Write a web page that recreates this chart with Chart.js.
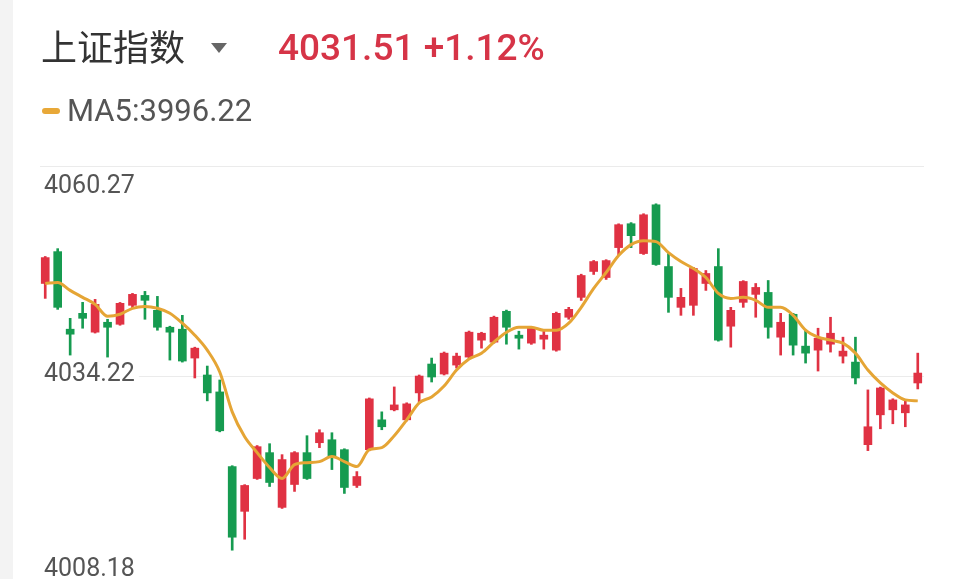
<!DOCTYPE html>
<html>
<head>
<meta charset="utf-8">
<script src="https://cdn.jsdelivr.net/npm/chart.js@4.4.1/dist/chart.umd.min.js"></script>
<style>
  html, body { margin: 0; padding: 0; background: #fff; overflow: hidden; }
  body { width: 960px; height: 579px; position: relative; }
  #strip { position: absolute; left: 0; top: 0; width: 13px; height: 579px; background: #f3f3f3; }
  #title { position: absolute; left: 41px; top: 27px; font: 36px/36px "Noto Sans CJK SC", sans-serif; color: #333; }
  #arrow { position: absolute; left: 211px; top: 43px; width: 0; height: 0;
           border-left: 8.5px solid transparent; border-right: 8.5px solid transparent; border-top: 10px solid #666; }
  #price { position: absolute; left: 278px; top: 29px; font: 500 37px/37px Roboto, sans-serif; color: #d63447;
           white-space: nowrap; }
  #maKey { position: absolute; left: 42px; top: 108px; width: 18px; height: 6px; border-radius: 3px; background: #e8a838; }
  #maText { position: absolute; left: 67px; top: 95px; font: 31px/31px Roboto, sans-serif; color: #555;
            white-space: nowrap; }
  #chart { position: absolute; left: 0; top: 0; }
</style>
</head>
<body>
<div id="strip"></div>
<canvas id="chart" width="960" height="600"></canvas>
<div id="title">上证指数</div>
<div id="arrow"></div>
<div id="price">4031.51 +1.12%</div>
<div id="maKey"></div>
<div id="maText">MA5:3996.22</div>
<script>
// candle data (71 bars)
const openPrices = [
  4045.70, 4049.65, 4040.03, 4042.00, 4039.66, 4040.89, 4040.64, 4042.99, 4044.22, 4042.37,
  4040.27, 4040.03, 4036.45, 4034.35, 4032.25, 4022.99, 4017.44, 4021.51, 4024.72, 4017.93,
  4020.77, 4024.72, 4025.95, 4026.32, 4025.09, 4020.65, 4025.09, 4028.79, 4030.03, 4028.79,
  4032.13, 4035.71, 4034.47, 4035.58, 4036.57, 4038.67, 4038.42, 4042.25, 4039.29, 4038.30,
  4038.79, 4037.43, 4041.51, 4043.98, 4047.19, 4046.44, 4050.15, 4053.11, 4049.41, 4055.46,
  4047.80, 4042.74, 4042.99, 4045.70, 4047.80, 4040.40, 4043.36, 4044.35, 4044.59, 4039.04,
  4041.88, 4037.93, 4037.43, 4038.17, 4036.69, 4035.95, 4025.71, 4029.41, 4030.03, 4029.66,
  4033.36
];
const highPrices = [
  4049.05, 4050.02, 4041.38, 4043.36, 4043.73, 4041.26, 4043.35, 4044.47, 4044.72, 4044.10,
  4040.40, 4041.75, 4037.80, 4035.46, 4033.73, 4023.10, 4020.75, 4025.60, 4025.83, 4024.47,
  4024.85, 4026.82, 4027.56, 4027.19, 4025.20, 4022.37, 4031.50, 4029.78, 4032.87, 4030.90,
  4034.35, 4036.45, 4037.20, 4037.06, 4039.80, 4039.65, 4041.65, 4042.40, 4039.78, 4040.30,
  4039.90, 4042.15, 4042.74, 4046.85, 4048.55, 4048.65, 4053.10, 4053.25, 4054.35, 4055.58,
  4049.41, 4045.09, 4047.70, 4047.31, 4050.02, 4042.74, 4046.05, 4045.70, 4046.07, 4042.00,
  4042.00, 4039.90, 4040.15, 4041.51, 4039.04, 4039.04, 4032.50, 4032.85, 4031.40, 4031.26,
  4037.06
];
const lowPrices = [
  4043.85, 4042.49, 4036.82, 4040.15, 4039.55, 4036.57, 4040.52, 4042.62, 4041.26, 4039.90,
  4036.20, 4035.95, 4033.98, 4031.14, 4027.30, 4012.62, 4013.98, 4021.40, 4020.52, 4017.80,
  4019.91, 4021.40, 4025.34, 4022.62, 4019.66, 4020.40, 4024.95, 4027.56, 4029.90, 4028.65,
  4031.01, 4033.48, 4034.35, 4035.21, 4036.45, 4037.68, 4038.30, 4038.17, 4037.56, 4038.15,
  4037.56, 4037.30, 4041.26, 4043.60, 4046.82, 4046.20, 4049.16, 4050.15, 4049.30, 4047.95,
  4042.12, 4041.75, 4041.75, 4044.84, 4038.55, 4037.80, 4042.74, 4041.51, 4038.91, 4036.82,
  4036.82, 4035.83, 4034.84, 4037.19, 4035.83, 4033.24, 4024.97, 4027.68, 4028.30, 4027.93,
  4032.62
];
const closePrices = [
  4048.91, 4042.74, 4039.41, 4041.38, 4043.11, 4040.27, 4043.24, 4044.35, 4043.61, 4040.27,
  4039.66, 4036.08, 4037.68, 4032.13, 4027.43, 4014.23, 4020.65, 4025.46, 4021.02, 4023.86,
  4024.72, 4021.51, 4027.19, 4024.23, 4020.40, 4021.76, 4031.39, 4027.93, 4030.64, 4030.77,
  4034.22, 4034.10, 4037.06, 4036.69, 4039.66, 4039.53, 4041.51, 4040.27, 4038.91, 4040.15,
  4039.29, 4042.00, 4042.49, 4046.69, 4048.42, 4048.54, 4052.99, 4051.63, 4054.22, 4048.05,
  4043.98, 4043.98, 4047.56, 4046.94, 4038.67, 4042.37, 4045.95, 4045.21, 4040.27, 4040.89,
  4038.05, 4037.06, 4038.91, 4039.53, 4037.31, 4033.98, 4027.93, 4032.74, 4031.26, 4030.64,
  4034.59
];
// MA5 line
const ma5Values = [
  4045.70, 4045.83, 4044.84, 4043.98, 4043.11, 4041.63, 4041.88, 4042.62, 4042.86, 4042.62,
  4042.00, 4040.77, 4039.29, 4037.43, 4034.72, 4029.78, 4026.69, 4024.72, 4022.87, 4021.51,
  4023.24, 4023.48, 4023.61, 4024.23, 4023.61, 4022.99, 4025.09, 4025.34, 4026.82, 4028.79,
  4030.89, 4031.63, 4032.99, 4034.96, 4036.32, 4037.06, 4038.42, 4039.66, 4040.27, 4040.27,
  4039.90, 4039.90, 4040.77, 4042.74, 4045.09, 4047.06, 4049.16, 4050.52, 4051.01, 4050.89,
  4049.53, 4048.42, 4047.56, 4046.44, 4044.47, 4043.85, 4043.98, 4043.61, 4042.74, 4042.74,
  4041.75, 4039.90, 4039.04, 4038.67, 4038.30, 4037.06, 4034.96, 4033.36, 4032.13, 4031.26,
  4031.14
];
const yTicks = [4008.18, 4034.22, 4060.27];
const yMin = 4008.18;
const yMax = 4060.27;

const labels = closePrices.map((c, i) => String(i + 1));
const UP = '#e03243';
const DOWN = '#169b50';
const candleColors = closePrices.map((c, i) => c >= openPrices[i] ? UP : DOWN);

// gridlines + the three price labels
const priceAxis = {
  id: 'priceAxis',
  beforeDatasetsDraw(chart) {
    const ctx = chart.ctx;
    const y = chart.scales.y;
    ctx.save();
    ctx.strokeStyle = '#ebebeb';
    ctx.lineWidth = 1;
    yTicks.forEach(v => {
      const py = Math.round(y.getPixelForValue(v)) + 0.5;
      ctx.beginPath();
      ctx.moveTo(40, py);
      ctx.lineTo(chart.chartArea.right, py);
      ctx.stroke();
    });
    ctx.restore();
  },
  afterDatasetsDraw(chart) {
    const ctx = chart.ctx;
    const y = chart.scales.y;
    ctx.save();
    ctx.font = '25px Roboto, sans-serif';
    ctx.textBaseline = 'middle';
    yTicks.forEach((v, i) => {
      let py = y.getPixelForValue(v);
      if (i === 0) py -= 16.5;          // lowest label sits above its line
      else if (i === yTicks.length - 1) py += 21;  // top label sits below
      else py -= 1.5;
      const txt = v.toFixed(2);
      const w = ctx.measureText(txt).width;
      ctx.fillStyle = '#fff';
      ctx.fillRect(40, py - 12, w + 8, 24);
      ctx.fillStyle = '#555';
      ctx.fillText(txt, 44, py);
    });
    ctx.restore();
  }
};

new Chart(document.getElementById('chart'), {
  type: 'bar',
  data: {
    labels: labels,
    datasets: [
      {
        type: 'line',
        label: 'MA5',
        data: ma5Values,
        borderColor: '#e5a535',
        borderWidth: 3,
        pointRadius: 0,
        tension: 0.4,
        cubicInterpolationMode: 'monotone',
        order: 0
      },
      {
        label: 'body',
        data: openPrices.map((o, i) => [o, closePrices[i]]),
        backgroundColor: candleColors,
        barThickness: 8,
        borderWidth: 0,
        borderSkipped: false,
        grouped: false,
        minBarLength: 2,
        order: 1
      },
      {
        label: 'wick',
        data: lowPrices.map((l, i) => [l, highPrices[i]]),
        backgroundColor: candleColors,
        barThickness: 2,
        borderWidth: 0,
        borderSkipped: false,
        grouped: false,
        order: 2
      }
    ]
  },
  options: {
    responsive: false,
    animation: false,
    devicePixelRatio: 1,
    layout: { padding: { left: 39, right: 36, top: 166, bottom: 14 } },
    plugins: { legend: { display: false }, tooltip: { enabled: false } },
    scales: {
      x: { display: false, offset: true },
      y: { display: false, min: yMin, max: yMax }
    }
  },
  plugins: [priceAxis]
});
</script>
</body>
</html>
